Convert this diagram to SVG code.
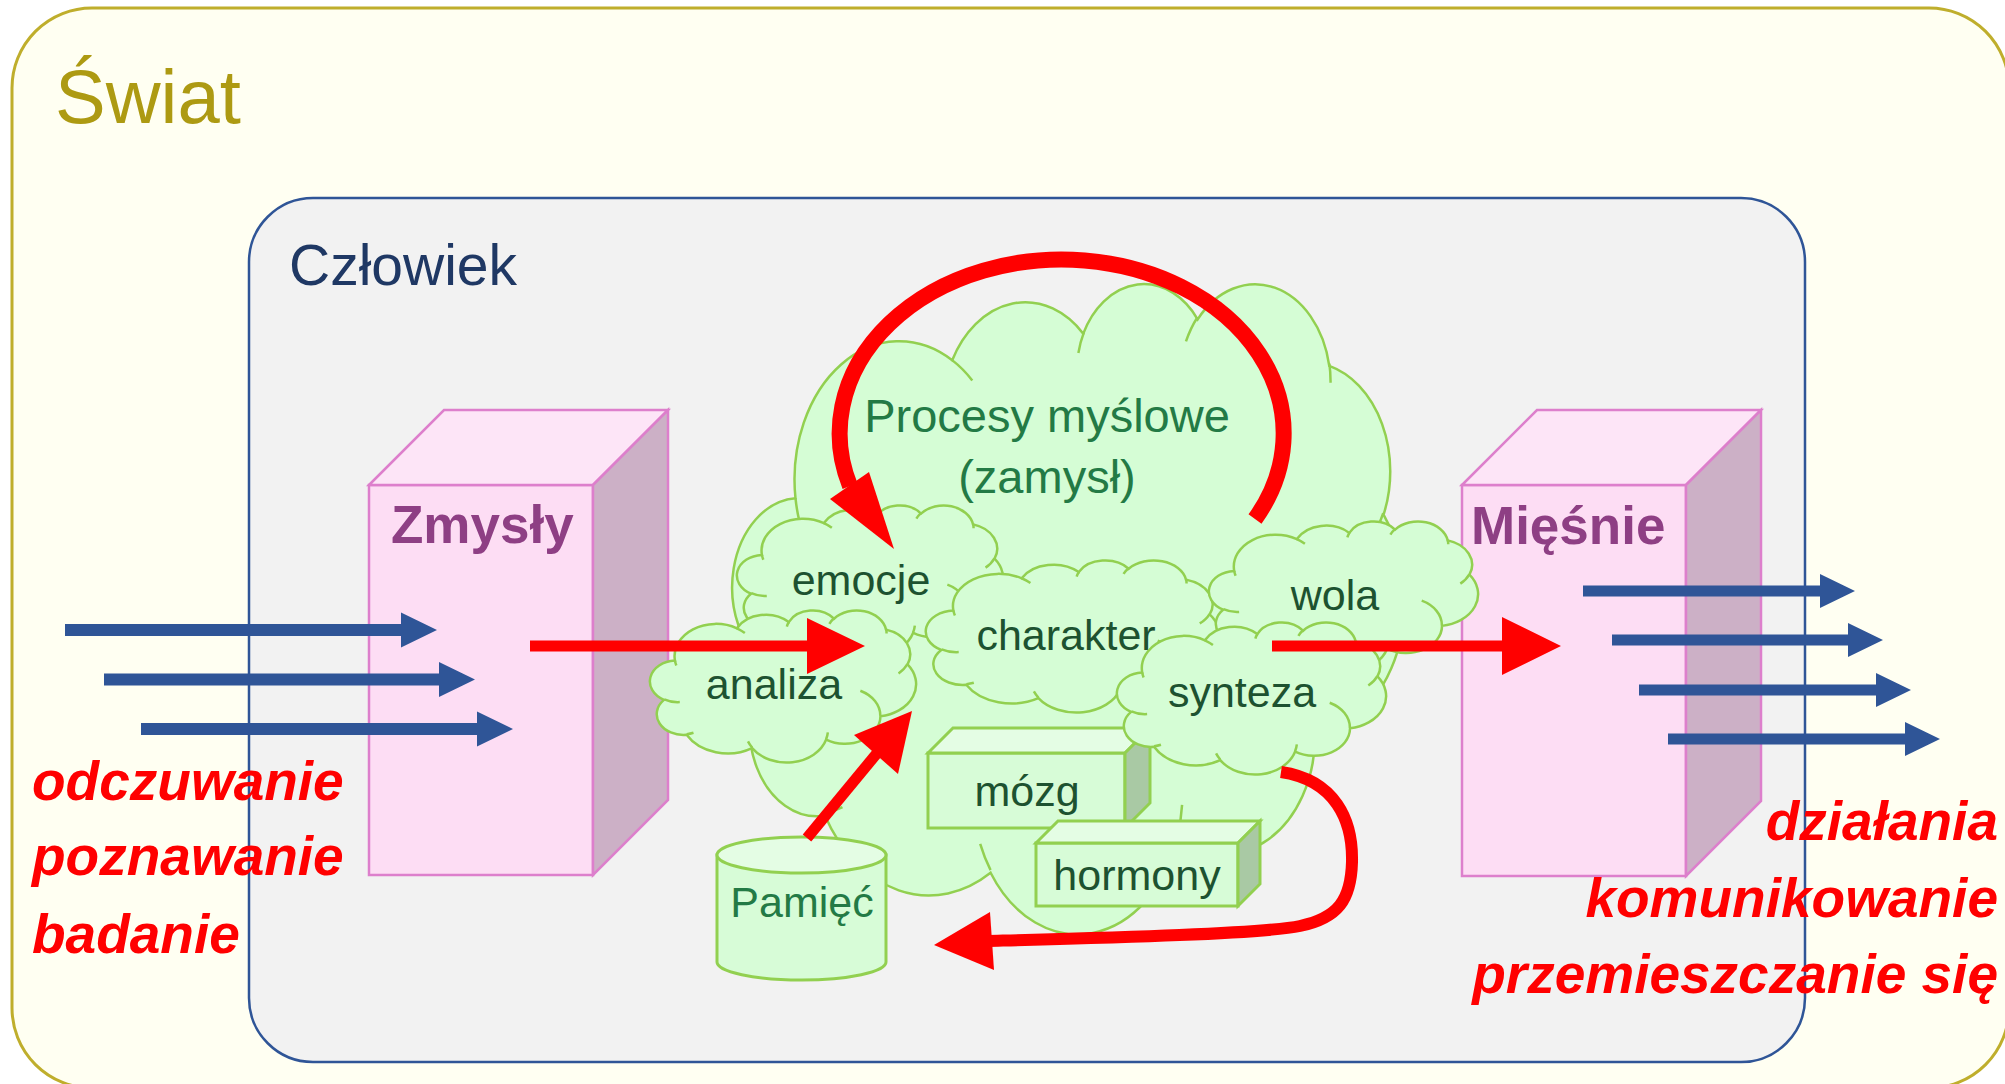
<svg xmlns="http://www.w3.org/2000/svg" width="2005" height="1084" viewBox="0 0 2005 1084">
<style>
.lbl{font-family:"Liberation Sans",Arial,sans-serif;font-size:43px;fill:#1D5230;text-anchor:middle}
.big{font-family:"Liberation Sans",Arial,sans-serif;font-size:47px;fill:#237A45;text-anchor:middle}
.box{font-family:"Liberation Sans",Arial,sans-serif;font-size:53px;font-weight:bold;fill:#8E3F84}
.act{font-family:"Liberation Sans",Arial,sans-serif;font-size:55px;font-weight:bold;font-style:italic;fill:#FF0000}
.cloud{fill:#D5FDD5;stroke:#92D050;stroke-width:2.5}
.seam{fill:none;stroke:#92D050;stroke-width:2.5}
.pfront{fill:#FDDDF4;stroke:#DD7FCC;stroke-width:2.5}
.ptop{fill:#FDE5F7;stroke:#DD7FCC;stroke-width:2.5}
.pside{fill:#CCB0C6;stroke:#DD7FCC;stroke-width:2.5}
.gfront{fill:#D7FCD7;stroke:#92D050;stroke-width:3}
.gtop{fill:#E4FDE4;stroke:#92D050;stroke-width:3}
.gside{fill:#A9C9A4;stroke:#92D050;stroke-width:3}
.blue{fill:#2F5597}
.red{fill:#FF0000}
.redl{fill:none;stroke:#FF0000}
</style>
<defs>
<path id="cloudShape" vector-effect="non-scaling-stroke" d="M3900 14370 A6753 9190 0 0 1 14005 5202 A5333 7267 0 0 1 22456 3432 A4365 5945 0 0 1 29833 2481 A4857 6595 0 0 1 38318 5576 A5333 7273 0 0 1 41818 15460 A6775 9220 0 0 1 37404 30203 A5785 7867 0 0 1 28556 36813 A6752 9215 0 0 1 16480 39264 A7720 10543 0 0 1 5804 35470 A4360 5918 0 0 1 2113 25548 A4345 5945 0 0 1 3900 14370 Z"/>
<path id="cloudSeams" vector-effect="non-scaling-stroke" d="M4693 26177 A4345 5945 0 0 1 2160 25380 M6928 34899 A4360 5918 0 0 1 5820 35280 M16478 39090 A6752 9215 0 0 1 15810 37350 M28827 34751 A6752 9215 0 0 1 28560 36660 M34129 22954 A5785 7867 0 0 1 37380 30090 M41798 15354 A5333 7273 0 0 1 40350 18030 M38324 5426 A4857 6595 0 0 1 38400 6690 M29078 3952 A4857 6595 0 0 1 29820 2340 M22141 4720 A4365 5945 0 0 1 22500 3330 M14000 5192 A6753 9190 0 0 1 15300 6540 M4127 15789 A6753 9190 0 0 1 3900 14370"/>
</defs>

<g id="swiat">
<rect x="12" y="8" width="1997" height="1080" rx="80" fill="#FFFFF2" stroke="#BFAE2C" stroke-width="3"/>
<text x="55" y="123" font-family="Liberation Sans, Arial, sans-serif" font-size="76" fill="#AD9A12">Świat</text>
</g>

<g id="czlowiek">
<rect x="249" y="198" width="1556" height="864" rx="64" fill="#F2F2F2" stroke="#2F5597" stroke-width="2.5"/>
<text x="289" y="285" font-family="Liberation Sans, Arial, sans-serif" font-size="57" fill="#1F3864">Człowiek</text>
</g>

<g id="zmysly">
<rect class="pfront" x="369" y="485" width="224" height="390"/>
<polygon class="ptop" points="369,485 444,410 668,410 593,485"/>
<polygon class="pside" points="593,485 668,410 668,800 593,875"/>
<text class="box" x="391" y="543">Zmysły</text>
</g>

<g id="miesnie">
<rect class="pfront" x="1462" y="485" width="224" height="391"/>
<polygon class="ptop" points="1462,485 1537,410 1761,410 1686,485"/>
<polygon class="pside" points="1686,485 1761,410 1761,801 1686,876"/>
<text class="box" x="1471" y="544" font-size="55">Mięśnie</text>
</g>

<g id="procesy">
<g transform="translate(735 282) scale(0.015509 0.015046)">
<use href="#cloudShape" class="cloud"/>
<use href="#cloudSeams" class="seam"/>
</g>
<text class="big" x="1047" y="432">Procesy myślowe</text>
<text class="big" x="1047" y="493">(zamysł)</text>
</g>

<g id="mozg">
<rect class="gfront" x="928" y="753" width="197" height="75"/>
<polygon class="gtop" points="928,753 953,728 1150,728 1125,753"/>
<polygon class="gside" points="1125,753 1150,728 1150,803 1125,828"/>
<text class="lbl" x="1027" y="806">mózg</text>
</g>

<g id="hormony">
<rect class="gfront" x="1036" y="843" width="202" height="63"/>
<polygon class="gtop" points="1036,843 1058,821 1260,821 1238,843"/>
<polygon class="gside" points="1238,843 1260,821 1260,884 1238,906"/>
<text class="lbl" x="1137" y="890">hormony</text>
</g>

<g id="pamiec">
<path class="gfront" d="M717 855 L717 962 A84.5 18 0 0 0 886 962 L886 855 Z"/>
<ellipse class="gtop" cx="801.5" cy="855" rx="84.5" ry="18"/>
<text x="802" y="917" font-family="Liberation Sans, Arial, sans-serif" font-size="43" fill="#237A45" text-anchor="middle">Pamięć</text>
</g>

<g id="emocje">
<g transform="translate(738 505) scale(0.0061343 0.0034722)">
<use href="#cloudShape" class="cloud"/>
<use href="#cloudSeams" class="seam"/>
</g>
<text class="lbl" x="861" y="595">emocje</text>
</g>

<g id="analiza">
<g transform="translate(651 610) scale(0.0061343 0.0035185)">
<use href="#cloudShape" class="cloud"/>
<use href="#cloudSeams" class="seam"/>
</g>
<text class="lbl" x="774" y="699">analiza</text>
</g>

<g id="charakter">
<g transform="translate(927 560) scale(0.0067593 0.0035185)">
<use href="#cloudShape" class="cloud"/>
<use href="#cloudSeams" class="seam"/>
</g>
<text class="lbl" x="1066" y="650">charakter</text>
</g>

<g id="wola">
<g transform="translate(1210 521) scale(0.0062037 0.0034722)">
<use href="#cloudShape" class="cloud"/>
<use href="#cloudSeams" class="seam"/>
</g>
<text class="lbl" x="1335" y="610">wola</text>
</g>

<g id="synteza">
<g transform="translate(1118 622) scale(0.0062037 0.0035185)">
<use href="#cloudShape" class="cloud"/>
<use href="#cloudSeams" class="seam"/>
</g>
<text class="lbl" x="1242" y="707">synteza</text>
</g>

<g id="connectors">
<path class="blue" d="M65 624 H401 V612.5 L437 630 L401 647.5 V636 H65 Z"/>
<path class="blue" d="M104 673.5 H439 V662 L475 679.5 L439 697 V685.5 H104 Z"/>
<path class="blue" d="M141 723 H477 V711.5 L513 729 L477 746.5 V735 H141 Z"/>
<path class="blue" d="M1583 585.5 H1820 V574 L1855 591 L1820 608 V596.5 H1583 Z"/>
<path class="blue" d="M1612 634.5 H1848 V623 L1883 640 L1848 657 V645.5 H1612 Z"/>
<path class="blue" d="M1639 684.5 H1876 V673 L1911 690 L1876 707 V695.5 H1639 Z"/>
<path class="blue" d="M1668 733.5 H1905 V722 L1940 739 L1905 756 V744.5 H1668 Z"/>
<path class="red" d="M530 640.5 H807 V618 L865 646 L807 674 V651.5 H530 Z"/>
<path class="red" d="M1272 640.5 H1502 V617 L1561 646 L1502 675 V651.5 H1272 Z"/>
<line class="redl" x1="807" y1="838" x2="878" y2="752" stroke-width="11"/>
<polygon class="red" points="912,711 854,735 898,774"/>
<path class="redl" d="M1255 519 A222 174 0 1 0 850 486" stroke-width="16"/>
<polygon class="red" points="894,549 830,499 869,472"/>
<path class="redl" d="M1281 772 C1335 780 1353 820 1352 862 C1351 900 1338 918 1300 926 C1262 934 1100 938 988 941" stroke-width="12"/>
<polygon class="red" points="934,945 990,912 994,970"/>
</g>

<g id="wejscie">
<text class="act" x="32" y="800">odczuwanie</text>
<text class="act" x="32" y="875">poznawanie</text>
<text class="act" x="32" y="953">badanie</text>
</g>

<g id="wyjscie">
<text class="act" x="1998" y="840" text-anchor="end">działania</text>
<text class="act" x="1998" y="917" text-anchor="end">komunikowanie</text>
<text class="act" x="1998" y="993" text-anchor="end">przemieszczanie się</text>
</g>
</svg>
